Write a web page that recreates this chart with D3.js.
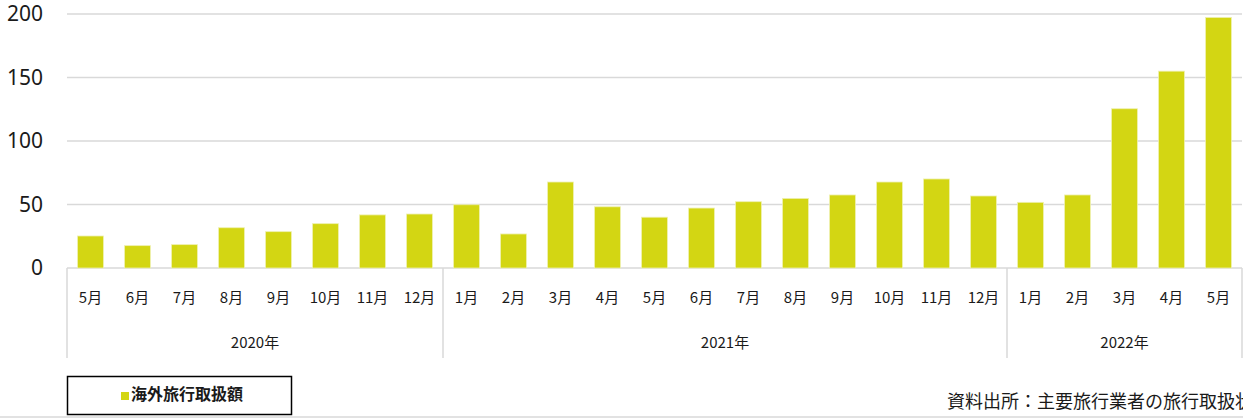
<!DOCTYPE html>
<html>
<head>
<meta charset="utf-8">
<script src="https://cdn.jsdelivr.net/npm/d3@7"></script>
<style>
  body { margin: 0; background: #fff; }
  svg { display: block; }
</style>
</head>
<body>
<div id="chart"></div>
<script>
// 海外旅行取扱額 (monthly)
const months = ["5月","6月","7月","8月","9月","10月","11月","12月",
  "1月","2月","3月","4月","5月","6月","7月","8月","9月","10月","11月","12月",
  "1月","2月","3月","4月","5月"];
const years = ["2020年","2021年","2022年"];
const yearCounts = [8, 12, 5];
const values = [25.2, 17.6, 18.4, 31.7, 28.6, 34.9, 41.8, 42.5,
  49.8, 26.8, 67.7, 48.2, 40, 47.2, 52.2, 54.8, 57.5, 67.7, 70.1, 56.7,
  51.7, 57.5, 125.4, 155, 197.3];
const yTicks = [0, 50, 100, 150, 200];
const seriesName = "海外旅行取扱額";
const sourceText = "資料出所：主要旅行業者の旅行取扱状況";

const width = 1243;
const height = 419;
const plotLeft = 67, plotRight = 1242, plotTop = 14, plotBottom = 268;
const barColor = "#d3d613";
const gridColor = "#d9d9d9";
const cjk = "'Noto Sans CJK JP', 'Noto Sans', sans-serif";

const svg = d3.select("#chart")
  .append("svg")
  .attr("width", width)
  .attr("height", height);

const idx = months.map((m, i) => i);

const x = d3.scaleBand()
  .domain(idx)
  .range([plotLeft, plotRight])
  .paddingInner(0.45)
  .paddingOuter(0.225);

const y = d3.scaleLinear()
  .domain([0, 200])
  .range([plotBottom, plotTop]);

// grid lines
svg.append("g")
  .selectAll("line")
  .data(yTicks)
  .join("line")
  .attr("x1", plotLeft)
  .attr("x2", plotRight)
  .attr("y1", d => y(d))
  .attr("y2", d => y(d))
  .attr("stroke", gridColor)
  .attr("stroke-width", 1.5);

// y labels
svg.append("g")
  .selectAll("text")
  .data(yTicks)
  .join("text")
  .attr("x", 43)
  .attr("y", d => y(d) + 7)
  .attr("text-anchor", "end")
  .style("font-family", "'Noto Sans', sans-serif")
  .style("font-size", "21px")
  .style("fill", "#1a1a1a")
  .text(d => d);

// bars
svg.append("g")
  .selectAll("rect")
  .data(values)
  .join("rect")
  .attr("x", (d, i) => x(i))
  .attr("y", d => y(d))
  .attr("width", x.bandwidth())
  .attr("height", d => y(0) - y(d))
  .attr("fill", barColor)
  .attr("stroke", "#eef0b0")
  .attr("stroke-width", 0.8);

// month labels
svg.append("g")
  .selectAll("text")
  .data(months)
  .join("text")
  .attr("x", (d, i) => x(i) + x.bandwidth() / 2)
  .attr("y", 303)
  .attr("text-anchor", "middle")
  .style("font-family", cjk)
  .style("font-size", "15px")
  .style("fill", "#1a1a1a")
  .text(d => d);

// year groups and separators
const step = x.step();
let start = 0;
const bounds = [plotLeft];
years.forEach((yr, i) => {
  const x0 = plotLeft + start * step;
  const x1 = plotLeft + (start + yearCounts[i]) * step;
  bounds.push(x1);
  svg.append("text")
    .attr("x", (x0 + x1) / 2)
    .attr("y", 348)
    .attr("text-anchor", "middle")
    .style("font-family", cjk)
    .style("font-size", "15px")
    .style("fill", "#1a1a1a")
    .text(yr);
  start += yearCounts[i];
});

svg.append("g")
  .selectAll("line")
  .data(bounds)
  .join("line")
  .attr("x1", d => d)
  .attr("x2", d => d)
  .attr("y1", plotBottom)
  .attr("y2", 358)
  .attr("stroke", gridColor)
  .attr("stroke-width", 1.5);

// legend
const legend = svg.append("g");
legend.append("rect")
  .attr("x", 67.5)
  .attr("y", 376.5)
  .attr("width", 224)
  .attr("height", 38)
  .attr("fill", "#fff")
  .attr("stroke", "#000")
  .attr("stroke-width", 1.5);
legend.append("rect")
  .attr("x", 121)
  .attr("y", 392)
  .attr("width", 8)
  .attr("height", 8)
  .attr("fill", barColor);
legend.append("text")
  .attr("x", 131)
  .attr("y", 400)
  .style("font-family", cjk)
  .style("font-size", "16px")
  .style("font-weight", "bold")
  .style("fill", "#1a1a1a")
  .text(seriesName);

// source note (runs off the right edge, as in the original)
svg.append("text")
  .attr("x", 947)
  .attr("y", 408)
  .style("font-family", cjk)
  .style("font-size", "18px")
  .style("fill", "#1a1a1a")
  .text(sourceText);

// bottom frame line
svg.append("line")
  .attr("x1", 0)
  .attr("x2", width)
  .attr("y1", 417)
  .attr("y2", 417)
  .attr("stroke", gridColor)
  .attr("stroke-width", 1.5);
</script>
</body>
</html>
